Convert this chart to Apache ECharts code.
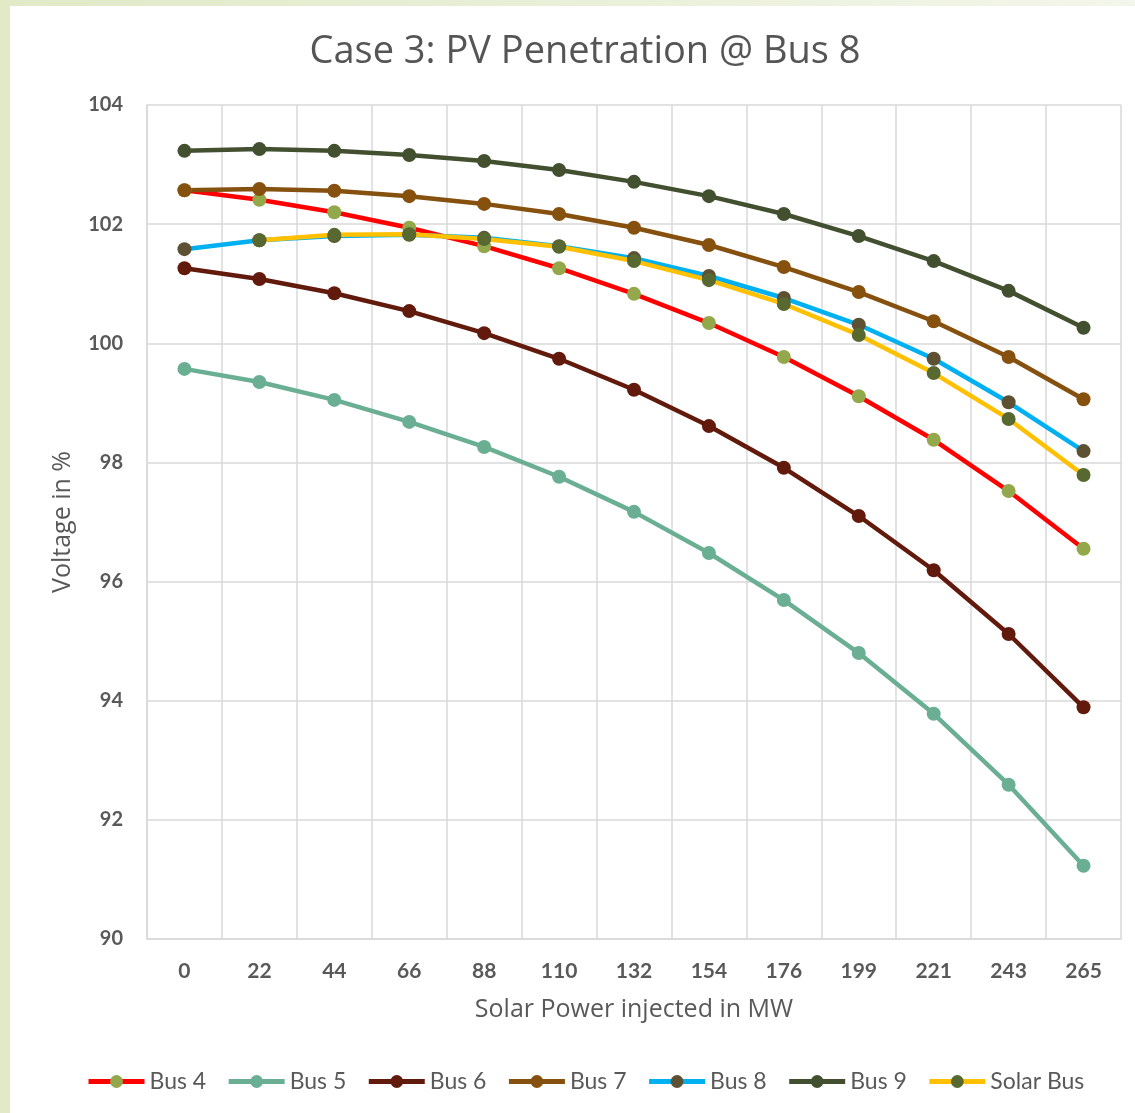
<!DOCTYPE html>
<html>
<head>
<meta charset="utf-8">
<script src="https://cdn.jsdelivr.net/npm/echarts@6/dist/echarts.min.js"></script>
<style>
html,body{margin:0;padding:0;background:#ffffff;width:1135px;height:1113px;overflow:hidden;}
#ls{position:absolute;left:0;top:0;width:10px;height:1113px;background:#e1e9c7;}
#ts{position:absolute;left:0;top:0;width:1135px;height:6px;background:linear-gradient(to right,#e1e9c7,#f3f6ea);}
#chart{position:absolute;left:0;top:0;width:1135px;height:1113px;}
</style>
</head>
<body>
<div id="ls"></div>
<div id="ts"></div>
<div id="chart"></div>
<script>
const categories = ['0','22','44','66','88','110','132','154','176','199','221','243','265'];
const bus4  = [102.57,102.41,102.20,101.94,101.63,101.26,100.83,100.34,99.77,99.11,98.38,97.52,96.55];
const bus5  = [99.57,99.35,99.05,98.68,98.26,97.76,97.17,96.48,95.69,94.80,93.78,92.59,91.23];
const bus6  = [101.26,101.08,100.84,100.54,100.17,99.74,99.22,98.61,97.91,97.10,96.19,95.12,93.89];
const bus7  = [102.57,102.59,102.56,102.47,102.34,102.17,101.94,101.65,101.28,100.86,100.37,99.77,99.06];
const bus8  = [101.58,101.73,101.80,101.82,101.77,101.63,101.43,101.13,100.76,100.31,99.74,99.01,98.19];
const bus9  = [103.23,103.26,103.23,103.16,103.06,102.91,102.71,102.47,102.17,101.80,101.38,100.88,100.26];
const solarBus = [null,101.73,101.82,101.83,101.75,101.62,101.38,101.06,100.66,100.14,99.50,98.73,97.79];
const yTicks = {min:90, max:104, interval:2};

const txt = '#595959';
const font = 'Lato';
function mk(name, data, lineColor, markerColor){
  return {
    name: name, type: 'line', data: data,
    symbol: 'circle', symbolSize: 14,
    lineStyle: {color: lineColor, width: 4.5},
    itemStyle: {color: markerColor},
    emphasis: {disabled: true},
    animation: false
  };
}
const chart = echarts.init(document.getElementById('chart'));
chart.setOption({
  backgroundColor: 'transparent',
  animation: false,
  title: {
    text: 'Case 3: PV Penetration @ Bus 8',
    left: 580, textAlign: 'center', top: 28,
    textStyle: {color: '#555555', fontSize: 38, fontWeight: 'normal', fontFamily: 'Open Sans'}
  },
  legend: {
    left: 86, top: 1070, padding: 0,
    itemWidth: 56, itemHeight: 16, itemGap: 20,
    lineStyle: {width: 5},
    textStyle: {color: txt, fontSize: 23, fontFamily: font},
    data: ['Bus 4','Bus 5','Bus 6','Bus 7','Bus 8','Bus 9','Solar Bus']
  },
  grid: {left: 147, right: 14, top: 105, bottom: 174},
  xAxis: {
    type: 'category', data: categories, boundaryGap: true,
    name: 'Solar Power injected in MW', nameLocation: 'middle', nameGap: 58,
    nameTextStyle: {color: txt, fontSize: 25, fontFamily: 'Open Sans'},
    axisLine: {lineStyle: {color: '#d9d9d9', width: 1.5}},
    axisTick: {show: false},
    axisLabel: {color: txt, fontSize: 21, fontWeight: 'bold', fontFamily: font, margin: 22},
    splitLine: {show: true, lineStyle: {color: '#d9d9d9', width: 1.5}}
  },
  yAxis: {
    type: 'value', min: yTicks.min, max: yTicks.max, interval: yTicks.interval,
    name: 'Voltage in %', nameLocation: 'middle', nameGap: 72, nameRotate: 90,
    nameTextStyle: {color: txt, fontSize: 25, fontFamily: 'Open Sans'},
    axisLine: {show: true, lineStyle: {color: '#d9d9d9', width: 1.5}},
    axisTick: {show: false},
    axisLabel: {color: txt, fontSize: 20, fontWeight: 'bold', fontFamily: font, margin: 24},
    splitLine: {show: true, lineStyle: {color: '#d9d9d9', width: 1.5}}
  },
  series: [
    mk('Bus 4', bus4, '#ff0000', '#92a84b'),
    mk('Bus 5', bus5, '#6aaf94', '#6aaf94'),
    mk('Bus 6', bus6, '#611a0c', '#611a0c'),
    mk('Bus 7', bus7, '#86500e', '#86500e'),
    mk('Bus 8', bus8, '#00b0f0', '#5e5033'),
    mk('Bus 9', bus9, '#435030', '#435030'),
    mk('Solar Bus', solarBus, '#ffc000', '#586831')
  ]
});
</script>
</body>
</html>
